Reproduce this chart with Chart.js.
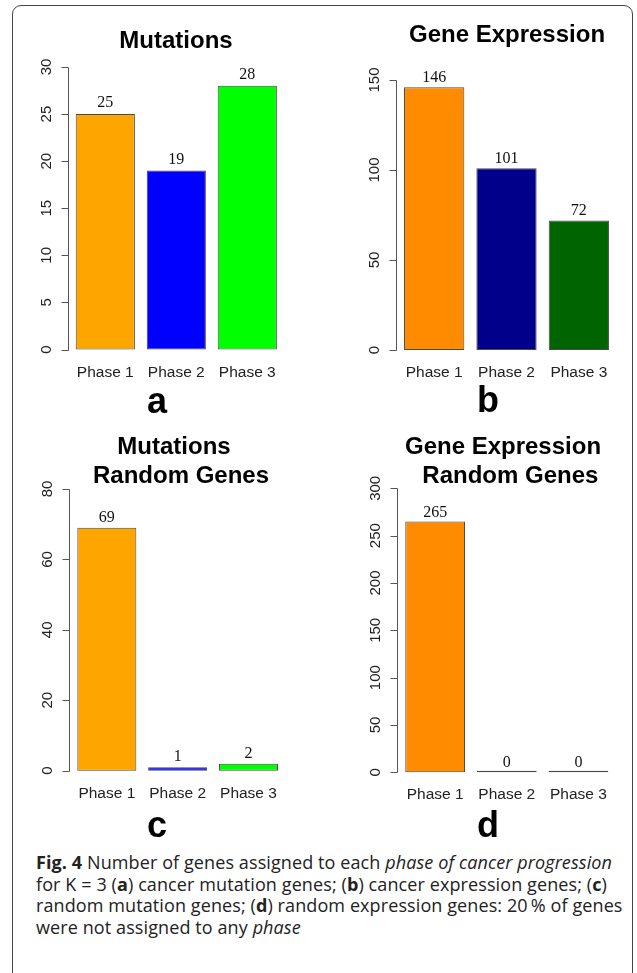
<!DOCTYPE html>
<html>
<head>
<meta charset="utf-8">
<script src="https://cdn.jsdelivr.net/npm/chart.js@4.4.1/dist/chart.umd.min.js"></script>
<style>
  body { margin: 0; background: #fff; width: 637px; height: 973px; overflow: hidden; position: relative; }
  #frame { position: absolute; left: 12px; top: 5px; width: 619px; height: 1010px; border: 1px solid #444; border-radius: 9px; }
  canvas { position: absolute; }
  #caption { position: absolute; left: 36px; top: 852px; width: 600px; font-family: "Open Sans", sans-serif; font-size: 18px; letter-spacing: 0.1px; line-height: 21.5px; color: #222; white-space: nowrap; }
</style>
</head>
<body>
<div id="frame"></div>
<canvas id="panelA" width="318" height="420" style="left:0;top:0"></canvas>
<canvas id="panelB" width="319" height="420" style="left:318px;top:0"></canvas>
<canvas id="panelC" width="318" height="420" style="left:0;top:420px"></canvas>
<canvas id="panelD" width="319" height="420" style="left:318px;top:420px"></canvas>
<div id="caption"><b>Fig. 4</b> Number of genes assigned to each <i>phase of cancer progression</i><br>for K = 3 (<b>a</b>) cancer mutation genes; (<b>b</b>) cancer expression genes; (<b>c</b>)<br>random mutation genes; (<b>d</b>) random expression genes: 20&thinsp;% of genes<br>were not assigned to any <i>phase</i></div>
<script>
const phases = ['Phase 1', 'Phase 2', 'Phase 3'];
const mutationGenes = [25, 19, 28];
const expressionGenes = [146, 101, 72];
const randomMutationGenes = [69, 1, 2];
const randomExpressionGenes = [265, 0, 0];
const mutationColors = ['#FFA500', '#0000FF', '#00FF00'];
const expressionColors = ['#FF8C00', '#00008B', '#006400'];
// y axis top and tick step for panels a, b, c, d
const yMax = [30, 150, 80, 300];
const yStep = [5, 50, 20, 50];

// draws the R base-graphics look: axis, rotated ticks, titles, values, letters
const rStyle = {
  id: 'rStyle',
  afterDraw(chart, args, o) {
    const ctx = chart.ctx;
    const area = chart.chartArea;
    const xs = chart.scales.x, ys = chart.scales.y;
    const catW = (area.right - area.left) / chart.data.labels.length;
    const axisX = Math.round(area.left - 0.03 * catW) + 0.5;
    const ticks = ys.ticks.map(t => t.value);
    ctx.save();

    ctx.strokeStyle = '#555';
    ctx.lineWidth = 1;
    ctx.beginPath();
    ctx.moveTo(axisX, Math.round(ys.getPixelForValue(ticks[0])) + 0.5);
    ctx.lineTo(axisX, Math.round(ys.getPixelForValue(ticks[ticks.length - 1])) + 0.5);
    ticks.forEach(v => {
      const py = Math.round(ys.getPixelForValue(v)) + 0.5;
      ctx.moveTo(axisX - 7, py);
      ctx.lineTo(axisX, py);
    });
    ctx.stroke();

    ctx.fillStyle = '#222';
    ctx.font = '15px "Liberation Sans"';
    ctx.textAlign = 'center';
    ctx.textBaseline = 'alphabetic';
    ticks.forEach(v => {
      ctx.save();
      ctx.translate(axisX - 17.5, ys.getPixelForValue(v));
      ctx.rotate(-Math.PI / 2);
      ctx.fillText(String(v), 0, 0);
      ctx.restore();
    });

    // category labels
    ctx.font = '15.5px "Liberation Sans"';
    chart.data.labels.forEach((lab, i) => {
      ctx.fillText(lab, xs.getPixelForValue(i), area.bottom + 27);
    });

    // values above bars
    ctx.fillStyle = '#111';
    ctx.font = '16px "Liberation Serif"';
    const meta = chart.getDatasetMeta(0);
    chart.data.datasets[0].data.forEach((v, i) => {
      const bar = meta.data[i];
      ctx.fillText(String(v), bar.x, Math.min(bar.y, ys.getPixelForValue(0)) - o.gap);
    });

    // title
    ctx.fillStyle = '#000';
    ctx.font = 'bold 24px "Liberation Sans"';
    o.title.forEach((line, i) => {
      ctx.fillText(line, o.titleX[i], o.titleY + i * 28.4);
    });

    // panel letter
    ctx.font = 'bold 36px "Liberation Sans"';
    ctx.fillText(o.letter, o.letterX, o.letterY);
    ctx.restore();
  }
};

function makePanel(id, values, colors, k, pad, opts) {
  return new Chart(document.getElementById(id), {
    type: 'bar',
    data: {
      labels: phases,
      datasets: [{
        data: values,
        backgroundColor: colors,
        borderColor: '#4a4a4a',
        borderWidth: 1,
        borderSkipped: false,
        barPercentage: 1 / 1.2,
        categoryPercentage: 1,
        minBarLength: 1.5,
        clip: false
      }]
    },
    options: {
      responsive: false,
      animation: false,
      layout: { padding: pad },
      scales: {
        x: { display: false },
        y: { display: false, min: 0, max: yMax[k], ticks: { stepSize: yStep[k] } }
      },
      plugins: {
        legend: { display: false },
        title: { display: false },
        tooltip: { enabled: false },
        rStyle: opts
      }
    },
    plugins: [rStyle]
  });
}

makePanel('panelA', mutationGenes, mutationColors, 0,
  { left: 69.8, right: 35.2, top: 67, bottom: 70.5 },
  { title: ['Mutations'], titleX: [176], titleY: 48, letter: 'a', letterX: 157, letterY: 413, gap: 7 });

makePanel('panelB', expressionGenes, expressionColors, 1,
  { left: 80, right: 22, top: 80, bottom: 70 },
  { title: ['Gene Expression'], titleX: [189], titleY: 42, letter: 'b', letterX: 170, letterY: 412, gap: 5 });

makePanel('panelC', randomMutationGenes, mutationColors, 2,
  { left: 71.4, right: 34.1, top: 69, bottom: 69.3 },
  { title: ['Mutations', 'Random Genes'], titleX: [174, 181], titleY: 34.3, letter: 'c', letterX: 157, letterY: 416.7, gap: 6 });

makePanel('panelD', randomExpressionGenes, expressionColors, 3,
  { left: 81.3, right: 22.7, top: 68.3, bottom: 67.7 },
  { title: ['Gene Expression', ' Random Genes'], titleX: [185, 189], titleY: 34.3, letter: 'd', letterX: 170, letterY: 416.7, gap: 4 });
</script>
</body>
</html>
